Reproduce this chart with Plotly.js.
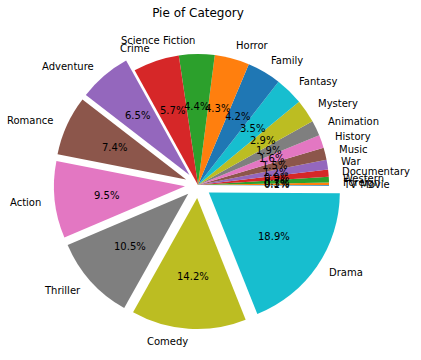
<!DOCTYPE html>
<html>
<head>
<meta charset="utf-8">
<script src="https://cdn.plot.ly/plotly-3.0.1.min.js"></script>
<style>html,body{margin:0;padding:0;background:#fff;}#chart{width:421px;height:360px;}</style>
</head>
<body>
<div id="chart"></div>
<script>
// Data (percent of total), in drawing order (counterclockwise from 3 o'clock)
const categories = ["TV Movie","Foreign","Western","Documentary","War","Music","History","Animation","Mystery","Fantasy","Family","Horror","Science Fiction","Crime","Adventure","Romance","Action","Thriller","Comedy","Drama"];
const values = [0.1,0.3,0.7,0.9,1.2,1.5,1.6,1.9,2.9,3.5,4.2,4.3,4.4,5.7,6.5,7.4,9.5,10.5,14.2,18.9];
const pulls = [0,0,0,0,0,0,0,0,0,0,0,0,0,0,0.1,0.1,0.1,0.1,0.1,0.1];

const tab10 = ["#1f77b4","#ff7f0e","#2ca02c","#d62728","#9467bd","#8c564b","#e377c2","#7f7f7f","#bcbd22","#17becf"];
const colors = categories.map((_, i) => tab10[i % 10]);

const W = 421, H = 360;
const cx = 198, cy = 185, R = 131;
const maxPull = Math.max(...pulls);
const half = R * (1 + maxPull);
const dx0 = (cx - half) / W, dx1 = (cx + half) / W;
const dy0 = 1 - (cy + half) / H, dy1 = 1 - (cy - half) / H;

const total = values.reduce((a, b) => a + b, 0);
const annotations = [];
let cum = 0;
values.forEach((v, i) => {
  const mid = (cum + v / 2) / total * 2 * Math.PI;
  cum += v;
  const c = Math.cos(mid), s = Math.sin(mid);
  const lx = cx + (pulls[i] + 1.1) * R * c;
  const ly = cy - (pulls[i] + 1.1) * R * s;
  annotations.push({
    x: lx / W, y: 1 - ly / H, xref: 'paper', yref: 'paper',
    text: categories[i], showarrow: false,
    xanchor: (lx - cx) > 0 ? 'left' : 'right', yanchor: 'middle',
    borderpad: 0,
    font: {family: 'DejaVu Sans', size: 10, color: '#000'}
  });
  const px = cx + (pulls[i] + 0.6) * R * c;
  const py = cy - (pulls[i] + 0.6) * R * s;
  annotations.push({
    x: px / W, y: 1 - py / H, xref: 'paper', yref: 'paper',
    text: (v / total * 100).toFixed(1) + '%', showarrow: false,
    xanchor: 'center', yanchor: 'middle', borderpad: 0,
    font: {family: 'DejaVu Sans', size: 10, color: '#000'}
  });
});

const trace = {
  type: 'pie',
  labels: categories,
  values: values,
  pull: pulls,
  sort: false,
  direction: 'counterclockwise',
  rotation: 90,
  textinfo: 'none',
  hoverinfo: 'label+percent',
  marker: {colors: colors, line: {width: 0}},
  domain: {x: [dx0, dx1], y: [dy0, dy1]},
  showlegend: false
};

const layout = {
  width: W, height: H,
  margin: {l: 0, r: 0, t: 0, b: 0},
  paper_bgcolor: '#fff',
  plot_bgcolor: '#fff',
  showlegend: false,
  title: {text: 'Pie of Category', font: {family: 'DejaVu Sans', size: 12, color: '#000'},
          x: cx / W, xanchor: 'center', y: 1 - 13 / H, yref: 'container', yanchor: 'middle'},
  annotations: annotations
};

Plotly.newPlot('chart', [trace], layout, {staticPlot: true, displayModeBar: false});
</script>
</body>
</html>
